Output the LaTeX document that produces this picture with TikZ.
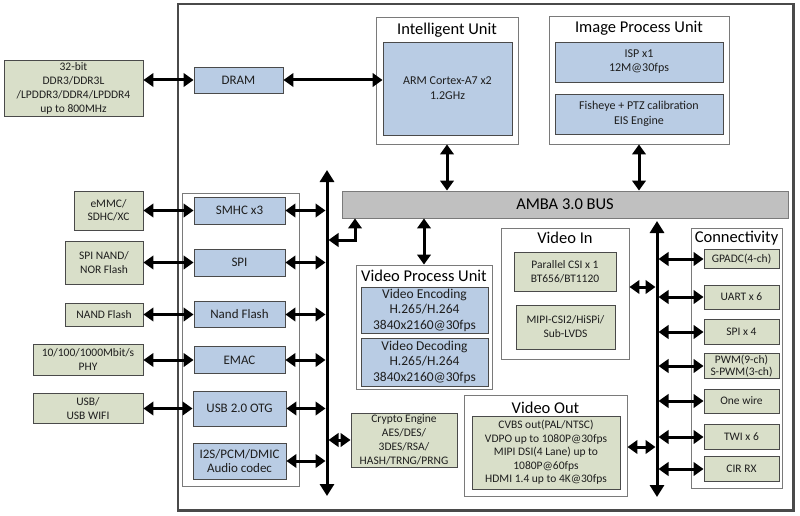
\documentclass[tikz,border=0pt]{standalone}
\usepackage{fontspec}
\setmainfont{Carlito}
\usetikzlibrary{arrows.meta}
\definecolor{bluef}{HTML}{B9CCE4}
\definecolor{greenf}{HTML}{D9DFC9}
\definecolor{grayf}{HTML}{C0C0C0}
\definecolor{edgec}{HTML}{4A4A4A}
\definecolor{contc}{HTML}{7A7A7A}
\definecolor{txtc}{HTML}{1E1E1E}
\tikzset{
  cbox/.style={draw=contc, line width=0.9pt, fill=white, inner sep=0pt},
  fbox/.style={draw=edgec, line width=0.9pt, inner sep=0pt, align=center, text=txtc},
  bluebox/.style={fbox, fill=bluef},
  greenbox/.style={fbox, fill=greenf},
  ttl/.style={font=\fontsize{16.5}{18}\selectfont, text=black, inner sep=0pt},
  midtxt/.style={font=\fontsize{13}{15}\selectfont},
  smltxt/.style={font=\fontsize{11.5}{14}\selectfont},
  dblarr/.style={line width=3pt, {Triangle[length=10pt,width=13.5pt]}-{Triangle[length=10pt,width=13.5pt]}},
  busarr/.style={line width=3pt, {Triangle[length=12pt,width=14pt]}-{Triangle[length=12pt,width=14pt]}},
}
\begin{document}
\begin{tikzpicture}[x=1pt,y=-1pt]
\useasboundingbox (0,0) rectangle (800,516);

% chip outline
\node[cbox, draw=edgec, line width=1.1pt, minimum width=615pt, minimum height=506pt] (chip) at (485.5,257) {};
\draw[edgec, line width=2pt] (chip.north east) -- (chip.south east) -- (chip.south west);

% containers
\node[cbox, minimum width=142pt, minimum height=127pt] (iu) at (447,80.5) {};
\node[cbox, minimum width=180pt, minimum height=128pt] (ipu) at (639,80) {};
\node[cbox, minimum width=117pt, minimum height=293pt] (lio) at (240.5,339.5) {};
\node[cbox, minimum width=136pt, minimum height=124pt] (vpu) at (424,327) {};
\node[cbox, minimum width=128pt, minimum height=131pt] (vin) at (565,293.5) {};
\node[cbox, minimum width=91pt, minimum height=260pt] (conn) at (736.5,358) {};
\node[cbox, minimum width=163pt, minimum height=101pt] (vout) at (545.5,445.5) {};

% titles
\node[ttl] (iut) at (447,30.5) {Intelligent Unit};
\node[ttl] (iput) at (639,28) {Image Process Unit};
\node[ttl] (vput) at (424,276) {Video Process Unit};
\node[ttl] (vint) at (565,238) {Video In};
\node[ttl] (connt) at (736.5,238.5) {Connectivity};
\node[ttl] (voutt) at (545.5,407.5) {Video Out};

% AMBA bus
\node[fbox, fill=grayf, ttl, draw=contc, minimum width=446pt, minimum height=27pt] (amba) at (565,204.5) {AMBA 3.0 BUS};

% external (left) boxes
\node[greenbox, smltxt, minimum width=139pt, minimum height=56pt] (ddr) at (73.5,88) {32-bit\\DDR3/DDR3L\\/LPDDR3/DDR4/LPDDR4\\up to 800MHz};
\node[greenbox, smltxt, font=\fontsize{11.5}{13.5}\selectfont, minimum width=69pt, minimum height=39pt] (emmc) at (108.5,210.5) {eMMC/\\SDHC/XC};
\node[greenbox, smltxt, minimum width=78pt, minimum height=43pt] (spinor) at (104,262.5) {SPI NAND/\\NOR Flash};
\node[greenbox, smltxt, minimum width=78pt, minimum height=23pt] (nandx) at (104,314.5) {NAND Flash};
\node[greenbox, smltxt, minimum width=110pt, minimum height=31pt] (phy) at (88,360) {10/100/1000Mbit/s\\PHY};
\node[greenbox, smltxt, font=\fontsize{11.5}{13.5}\selectfont, minimum width=110pt, minimum height=30pt] (usbx) at (88,408.5) {USB/\\USB WIFI};

% left blue blocks
\node[bluebox, midtxt, minimum width=89pt, minimum height=26pt] (dram) at (238.5,80) {DRAM};
\node[bluebox, midtxt, minimum width=91pt, minimum height=27pt] (smhc) at (239.5,210.5) {SMHC x3};
\node[bluebox, midtxt, minimum width=91pt, minimum height=27pt] (spi) at (239.5,262.5) {SPI};
\node[bluebox, midtxt, minimum width=91pt, minimum height=26pt] (nand) at (239.5,314.5) {Nand Flash};
\node[bluebox, midtxt, minimum width=91pt, minimum height=27pt] (emac) at (239.5,360) {EMAC};
\node[bluebox, midtxt, minimum width=93pt, minimum height=35pt] (usb) at (239.5,408.5) {USB 2.0 OTG};
\node[bluebox, midtxt, font=\fontsize{13}{13.5}\selectfont, minimum width=93pt, minimum height=36pt] (i2s) at (239.5,461) {I2S/PCM/DMIC\\Audio codec};

% top units
\node[bluebox, font=\fontsize{12}{15}\selectfont, minimum width=129pt, minimum height=93pt] (arm) at (447.5,88.5) {ARM Cortex-A7 x2\\1.2GHz};
\node[bluebox, font=\fontsize{12}{14}\selectfont, minimum width=168pt, minimum height=40pt] (isp) at (639,62) {ISP x1\\12M@30fps};
\node[bluebox, font=\fontsize{12}{15}\selectfont, minimum width=168pt, minimum height=40pt] (fish) at (639,114) {Fisheye + PTZ calibration\\EIS Engine};

% video process unit
\node[bluebox, font=\fontsize{13.5}{15.5}\selectfont, minimum width=127pt, minimum height=46pt] (enc) at (424.5,310) {Video Encoding\\H.265/H.264\\3840x2160@30fps};
\node[bluebox, font=\fontsize{13.5}{15.5}\selectfont, minimum width=127pt, minimum height=48pt] (dec) at (424.5,362) {Video Decoding\\H.265/H.264\\3840x2160@30fps};

% video in
\node[greenbox, smltxt, minimum width=102pt, minimum height=39pt] (par) at (565,271.5) {Parallel CSI x 1\\BT656/BT1120};
\node[greenbox, smltxt, minimum width=99pt, minimum height=44pt] (mipi) at (565.5,327) {MIPI-CSI2/HiSPi/\\Sub-LVDS};

% video out
\node[greenbox, font=\fontsize{11.5}{13.5}\selectfont, minimum width=148pt, minimum height=73pt] (vo) at (546,452.5) {CVBS out(PAL/NTSC)\\VDPO up to 1080P@30fps\\MIPI DSI(4 Lane) up to\\1080P@60fps\\HDMI 1.4 up to 4K@30fps};

% crypto
\node[greenbox, font=\fontsize{11.5}{14}\selectfont, minimum width=106pt, minimum height=54pt] (crypto) at (404,440) {Crypto Engine\\AES/DES/\\3DES/RSA/\\HASH/TRNG/PRNG};

% connectivity items
\node[greenbox, smltxt, minimum width=75pt, minimum height=19pt] (gpadc) at (741.5,259) {GPADC(4-ch)};
\node[greenbox, smltxt, minimum width=75pt, minimum height=24pt] (uart) at (741.5,297) {UART x 6};
\node[greenbox, smltxt, minimum width=75pt, minimum height=25pt] (spix) at (741.5,332) {SPI x 4};
\node[greenbox, font=\fontsize{11.5}{12.5}\selectfont, minimum width=75pt, minimum height=25pt] (pwm) at (741.5,366) {PWM(9-ch)\\S-PWM(3-ch)};
\node[greenbox, smltxt, minimum width=75pt, minimum height=24pt] (onew) at (741.5,401) {One wire};
\node[greenbox, smltxt, minimum width=75pt, minimum height=25pt] (twi) at (741.5,437) {TWI x 6};
\node[greenbox, smltxt, minimum width=75pt, minimum height=25pt] (cir) at (741.5,469) {CIR RX};

% buses
\coordinate (lbtop) at (327,170);
\coordinate (lbbot) at (327,496);
\coordinate (lbL) at (325.5,0);
\coordinate (lbR) at (328.5,0);
\coordinate (rbtop) at (657,221);
\coordinate (rbbot) at (657,497);
\coordinate (rbL) at (655.5,0);
\coordinate (rbR) at (658.5,0);
\draw[busarr] (lbbot) -- (lbtop);
\draw[busarr] (rbbot) -- (rbtop);

% left external <-> blocks
\draw[dblarr] (dram.west -| ddr.east) -- (dram.west);
\draw[dblarr] (emmc.east) -- (smhc.west);
\draw[dblarr] (spinor.east) -- (spi.west);
\draw[dblarr] (nandx.east) -- (nand.west);
\draw[dblarr] (phy.east) -- (emac.west);
\draw[dblarr] (usbx.east) -- (usb.west);

% DRAM <-> ARM
\draw[dblarr] (dram.east) -- (dram.east -| arm.west);

% blocks <-> left bus
\draw[dblarr] (smhc.east) -- (smhc.east -| lbL);
\draw[dblarr] (spi.east) -- (spi.east -| lbL);
\draw[dblarr] (nand.east) -- (nand.east -| lbL);
\draw[dblarr] (emac.east) -- (emac.east -| lbL);
\draw[dblarr] (usb.east) -- (usb.east -| lbL);
\draw[dblarr] (i2s.east) -- (i2s.east -| lbL);
\draw[dblarr] (crypto.west -| lbR) -- (crypto.west);

% left bus <-> AMBA elbow
\coordinate (elb) at (355,240);
\draw[dblarr, line join=miter] (amba.south -| elb) -- (elb) -- (elb -| lbR);

% units <-> AMBA
\draw[dblarr] (iu.south) -- (iu.south |- amba.north);
\draw[dblarr] (ipu.south) -- (ipu.south |- amba.north);
\draw[dblarr] (vpu.north) -- (vpu.north |- amba.south);

% right bus
\draw[dblarr] ([yshift=6.5pt]vin.east) -- ([yshift=6.5pt]vin.east -| rbL);
\draw[dblarr] ([yshift=-1.5pt]vout.east) -- ([yshift=-1.5pt]vout.east -| rbL);
\foreach \n in {gpadc,uart,spix,pwm,onew,twi,cir}{
  \draw[dblarr] (\n.west -| rbR) -- (\n.west);
}
\end{tikzpicture}
\end{document}
